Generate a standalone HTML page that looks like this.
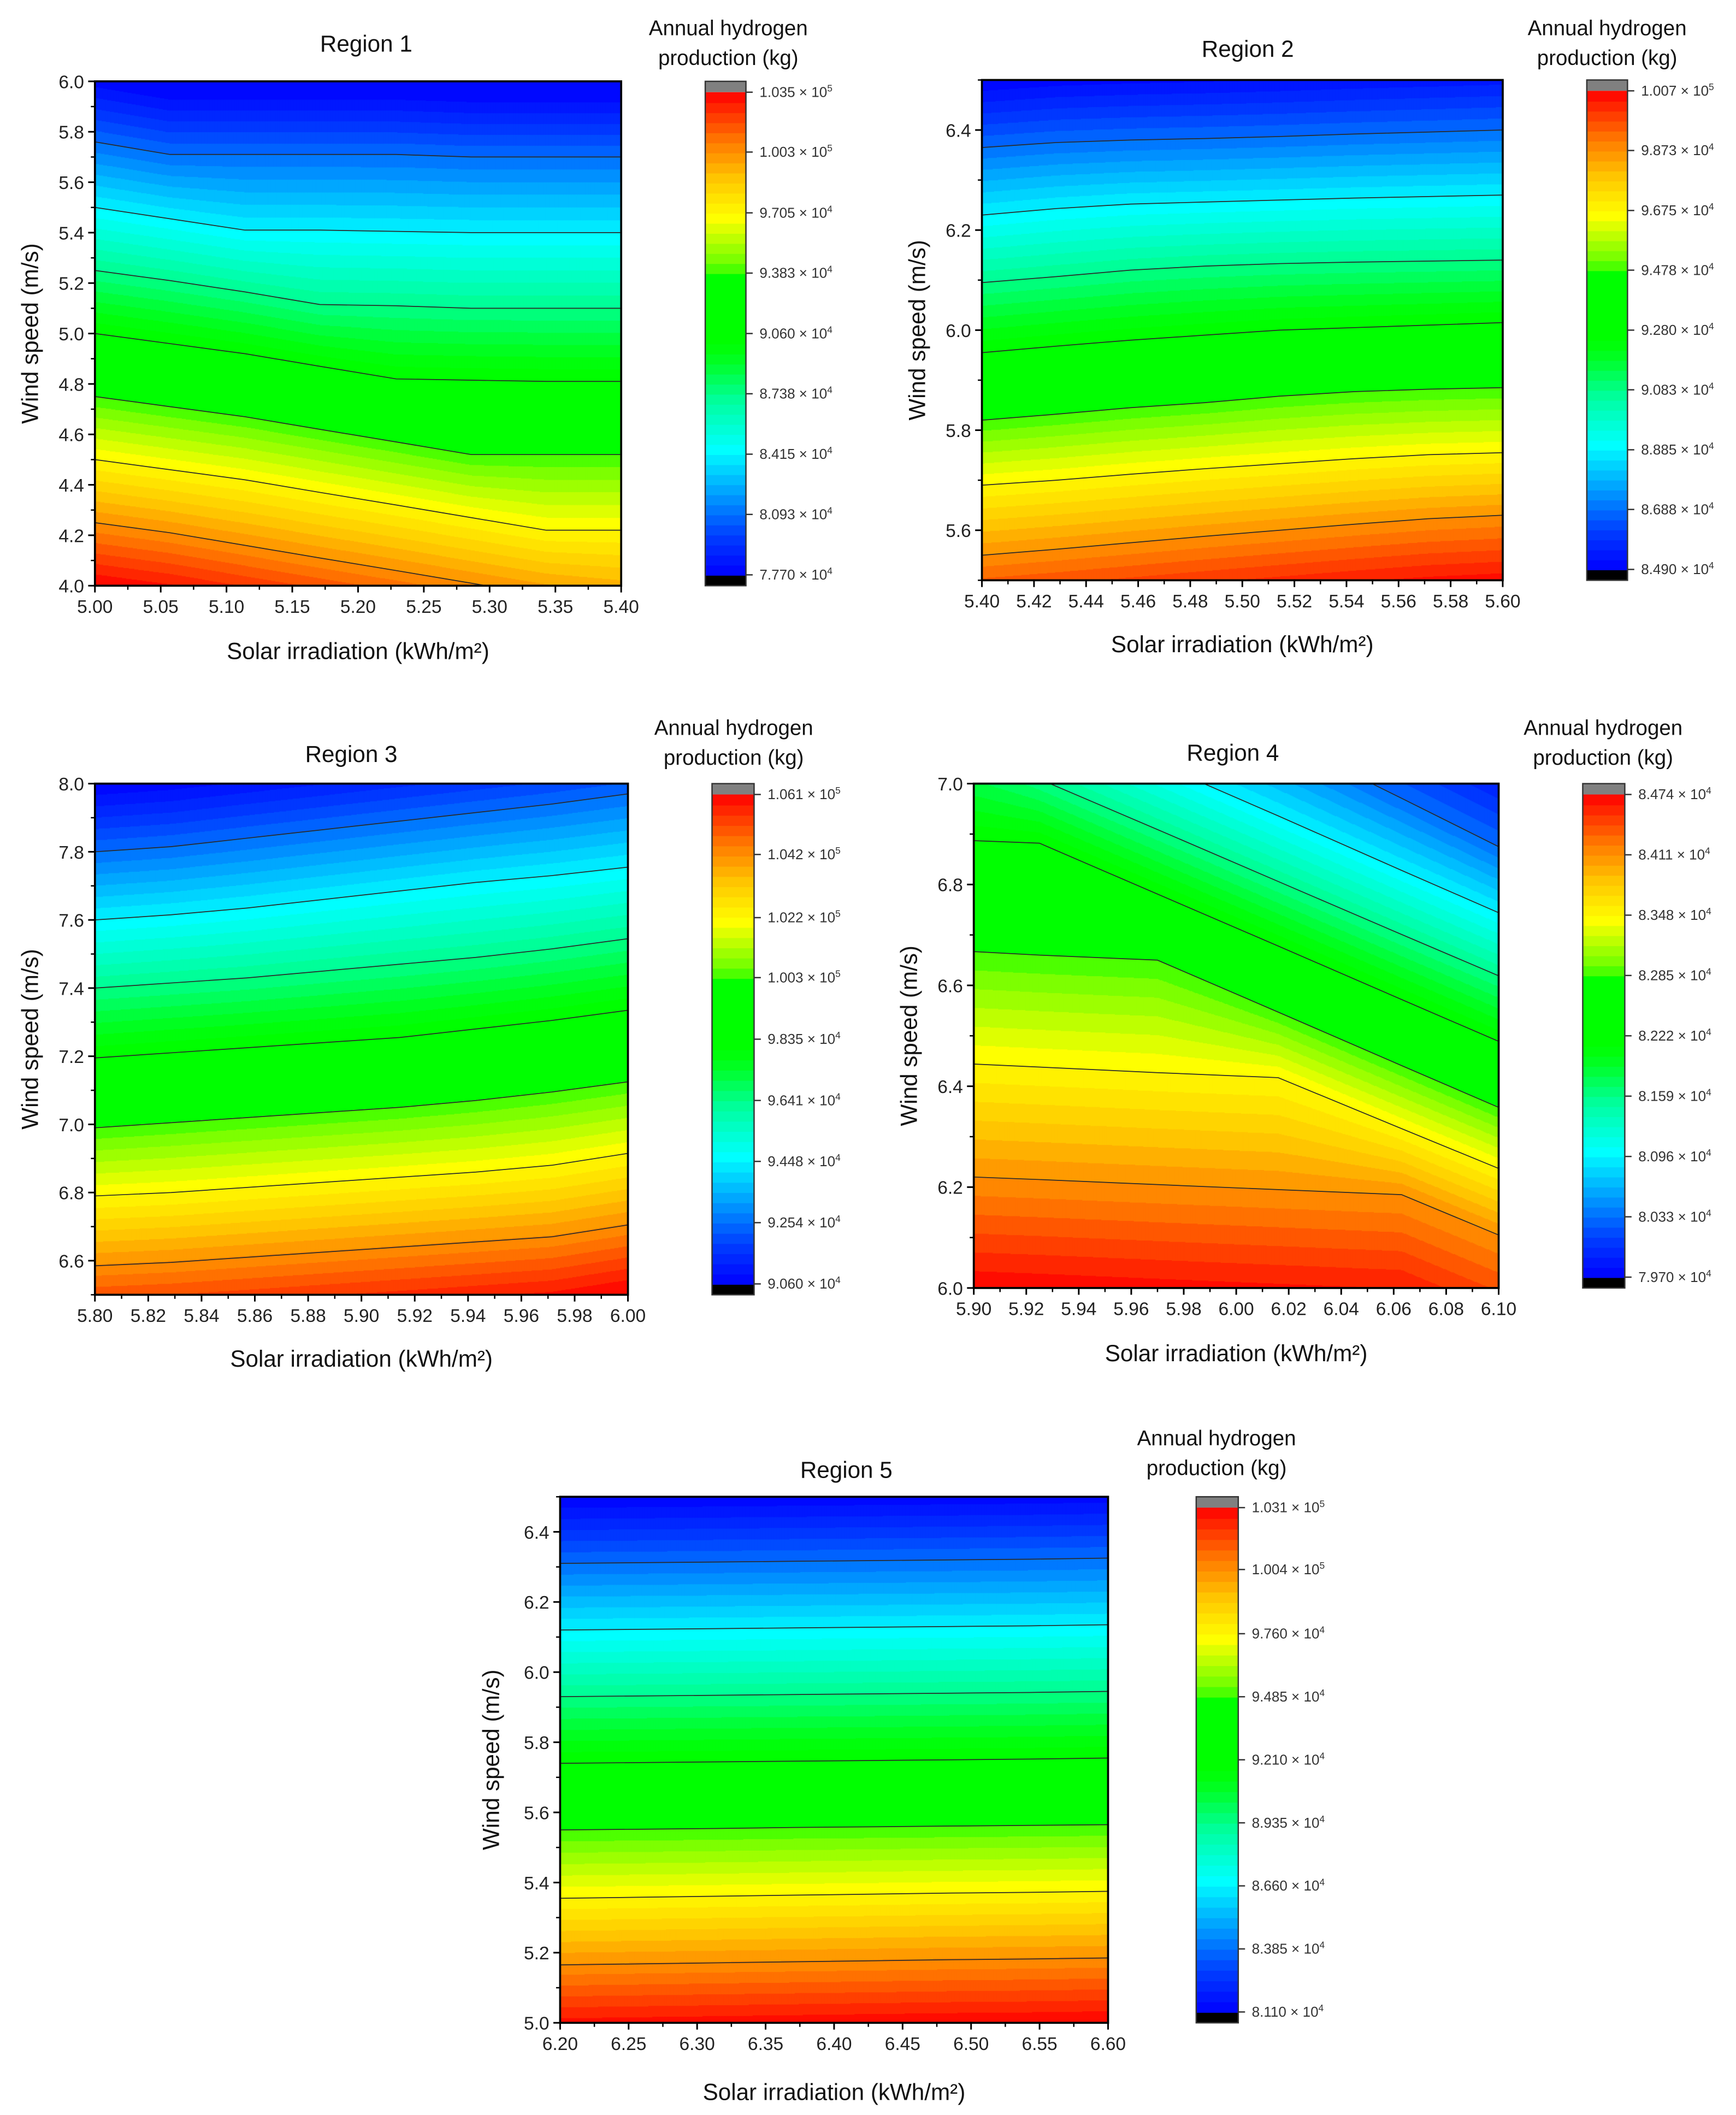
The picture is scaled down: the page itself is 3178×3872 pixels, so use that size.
<!DOCTYPE html>
<html><head><meta charset="utf-8"><title>Annual hydrogen production contour maps</title>
<style>
html,body{margin:0;padding:0;background:#fff;}
svg{display:block;font-family:"Liberation Sans",Arial,sans-serif;}
</style></head>
<body>
<svg id="fig" xmlns="http://www.w3.org/2000/svg" width="3178" height="3872" viewBox="0 0 1280 1560" preserveAspectRatio="none"></svg>
<script>
// ---------- DATA ----------
// Region 1
const r1XNodes = [5.0,5.057,5.114,5.171,5.229,5.286,5.343,5.4];
const r1Lines = [
 [5.76,5.71,5.71,5.71,5.71,5.70,5.70,5.70],
 [5.50,5.455,5.41,5.41,5.405,5.40,5.40,5.40],
 [5.25,5.21,5.165,5.115,5.11,5.10,5.10,5.10],
 [5.00,4.96,4.92,4.87,4.82,4.815,4.81,4.81],
 [4.75,4.71,4.67,4.62,4.57,4.52,4.52,4.52],
 [4.50,4.46,4.42,4.37,4.32,4.27,4.22,4.22],
 [4.25,4.21,4.16,4.11,4.06,4.01,3.96,3.92]
];
const r1Ticks = [77700,80930,84150,87380,90600,93830,97050,100300,103500];
// Region 2
const r2XNodes = [5.40,5.4286,5.4571,5.4857,5.5143,5.5429,5.5714,5.60];
const r2Lines = [
 [6.365,6.375,6.38,6.383,6.387,6.392,6.396,6.40],
 [6.23,6.243,6.252,6.256,6.26,6.264,6.267,6.27],
 [6.095,6.107,6.12,6.128,6.133,6.136,6.138,6.14],
 [5.955,5.968,5.98,5.99,6.0,6.005,6.01,6.015],
 [5.82,5.832,5.845,5.855,5.868,5.877,5.882,5.885],
 [5.69,5.70,5.712,5.723,5.733,5.743,5.751,5.755],
 [5.55,5.562,5.575,5.588,5.60,5.612,5.623,5.63]
];
const r2Ticks = [84900,86880,88850,90830,92800,94780,96750,98730,100700];
// Region 3
const r3XNodes = [5.80,5.8286,5.8571,5.8857,5.9143,5.9429,5.9714,6.00];
const r3Lines = [
 [7.80,7.815,7.84,7.865,7.89,7.915,7.94,7.97],
 [7.60,7.615,7.635,7.66,7.685,7.71,7.73,7.755],
 [7.40,7.415,7.43,7.45,7.47,7.49,7.515,7.545],
 [7.195,7.21,7.225,7.24,7.255,7.28,7.305,7.335],
 [6.99,7.005,7.02,7.035,7.05,7.07,7.095,7.125],
 [6.79,6.80,6.815,6.83,6.845,6.86,6.88,6.915],
 [6.585,6.595,6.61,6.625,6.64,6.655,6.67,6.705]
];
const r3Ticks = [90600,92540,94480,96410,98350,100300,102200,104200,106100];
// Region 4
const r4XNodes = [5.90,5.925,5.97,6.016,6.063,6.10];
const r4Lines = [
 [7.39,7.326,7.21,7.092,6.971,6.875],
 [7.20,7.143,7.04,6.936,6.828,6.744],
 [7.065,7.009,6.909,6.806,6.701,6.619],
 [6.887,6.882,6.781,6.678,6.572,6.489],
 [6.667,6.66,6.65,6.547,6.441,6.358],
 [6.444,6.438,6.427,6.417,6.316,6.237],
 [6.22,6.215,6.205,6.195,6.185,6.105]
];
const r4Ticks = [79700,80330,80960,81590,82220,82850,83480,84110,84740];
// Region 5
const r5XNodes = [6.20,6.257,6.314,6.371,6.429,6.486,6.543,6.60];
const r5Lines = [
 [6.31,6.312,6.314,6.316,6.318,6.32,6.322,6.325],
 [6.12,6.122,6.124,6.126,6.128,6.13,6.132,6.135],
 [5.93,5.932,5.934,5.936,5.938,5.94,5.942,5.945],
 [5.74,5.742,5.744,5.746,5.748,5.75,5.752,5.755],
 [5.55,5.552,5.554,5.557,5.559,5.561,5.563,5.565],
 [5.355,5.358,5.361,5.364,5.367,5.37,5.372,5.375],
 [5.165,5.168,5.171,5.174,5.177,5.18,5.182,5.185]
];
const r5Ticks = [81100,83850,86600,89350,92100,94850,97600,100400,103100];

// ---------- LAYOUT ----------
const panels = [
 {id:1,xn:r1XNodes,lines:r1Lines,ticks:r1Ticks,px:70,py:60,pw:388,ph:372,xmin:5.0,xmax:5.4,xstep:0.05,xdec:2,ymin:4.0,ymax:6.0,y0:4.0,ystep:0.2,cbx:520,cbw:30,tx:270,ty:32,ctx:537,cty:20,xly:480,ylx:22},
 {id:2,xn:r2XNodes,lines:r2Lines,ticks:r2Ticks,px:724,py:59,pw:384,ph:369,xmin:5.4,xmax:5.6,xstep:0.02,xdec:2,ymin:5.5,ymax:6.5,y0:5.6,ystep:0.2,cbx:1170,cbw:30,tx:920,ty:36,ctx:1185,cty:20,xly:475,ylx:676},
 {id:3,xn:r3XNodes,lines:r3Lines,ticks:r3Ticks,px:70,py:578,pw:393,ph:377,xmin:5.8,xmax:6.0,xstep:0.02,xdec:2,ymin:6.5,ymax:8.0,y0:6.6,ystep:0.2,cbx:525,cbw:31,tx:259,ty:556,ctx:541,cty:536,xly:1002,ylx:22},
 {id:4,xn:r4XNodes,lines:r4Lines,ticks:r4Ticks,px:718,py:578,pw:387,ph:372,xmin:5.9,xmax:6.1,xstep:0.02,xdec:2,ymin:6.0,ymax:7.0,y0:6.0,ystep:0.2,cbx:1167,cbw:31,tx:909,ty:555,ctx:1182,cty:536,xly:998,ylx:670},
 {id:5,xn:r5XNodes,lines:r5Lines,ticks:r5Ticks,px:413,py:1104,pw:404,ph:388,xmin:6.2,xmax:6.6,xstep:0.05,xdec:2,ymin:5.0,ymax:6.5,y0:5.0,ystep:0.2,cbx:882,cbw:31,tx:624,ty:1084,ctx:897,cty:1060,xly:1543,ylx:362}
];

const NS="http://www.w3.org/2000/svg";
const svg=document.getElementById('fig');
function mk(tag,attrs,parent){const e=document.createElementNS(NS,tag);for(const k in attrs)e.setAttribute(k,attrs[k]);(parent||svg).appendChild(e);return e;}

const stops=[[0,0,0,255],[0.08,0,60,255],[0.18,0,170,255],[0.26,0,255,255],[0.36,0,255,160],[0.44,0,255,40],[0.48,0,255,0],[0.62,0,255,0],[0.64,100,255,0],[0.74,255,255,0],[0.82,255,200,0],[0.9,255,120,0],[1,255,0,0]];
function cmap(t){t=Math.max(0,Math.min(1,t));for(let i=1;i<stops.length;i++){if(t<=stops[i][0]){const a=stops[i-1],b=stops[i];const f=(t-a[0])/(b[0]-a[0]);return 'rgb('+[1,2,3].map(j=>Math.round(a[j]+(b[j]-a[j])*f)).join(',')+')';}}return 'rgb(255,0,0)';}
const NB=48;
function qcol(t){let q=Math.floor(Math.max(0,Math.min(0.9999,t))*NB);return cmap((q+0.5)/NB);}

function interpNodes(xn,arr,x){if(x<=xn[0])return arr[0];for(let i=1;i<xn.length;i++){if(x<=xn[i]){const f=(x-xn[i-1])/(xn[i]-xn[i-1]);return arr[i-1]+(arr[i]-arr[i-1])*f;}}return arr[arr.length-1];}

function fmtSup(v){const e=Math.floor(Math.log10(v));return [(v/Math.pow(10,e)).toFixed(3),e];}

panels.forEach(p=>{
  const g=mk('g',{});
  
  
  const tmin=p.ticks[0],tmax=p.ticks[p.ticks.length-1];
  const lev=p.ticks.slice(1,8).map(v=>(v-tmin)/(tmax-tmin));
  const sx=x=>p.px+(x-p.xmin)/(p.xmax-p.xmin)*p.pw;
  const sy=y=>p.py+p.ph-(y-p.ymin)/(p.ymax-p.ymin)*p.ph;
  const iy=py=>p.ymin+(p.py+p.ph-py)/p.ph*(p.ymax-p.ymin);
  const ix=px=>p.xmin+(px-p.px)/p.pw*(p.xmax-p.xmin);
  const nL=p.lines.length;
  // extrapolation gradients from the first column
  const gapTop=p.lines[0][0]-p.lines[1][0];
  const gapBot=p.lines[nL-2][0]-p.lines[nL-1][0];
  const cp=mk('clipPath',{id:'clip'+p.id},g);
  mk('rect',{x:p.px,y:p.py,width:p.pw,height:p.ph},cp);
  const fill=mk('g',{'clip-path':'url(#clip'+p.id+')'},g);
  
  
  const dx=1;
  for(let cx=p.px;cx<p.px+p.pw;cx+=dx){
    const xd=ix(cx+dx/2);
    const ys=p.lines.map(l=>interpNodes(p.xn,l,xd));
    const tAt=yd=>{
      const n=ys.length;
      if(yd>=ys[0]){return lev[0]-(yd-ys[0])*(lev[1]-lev[0])/gapTop;}
      if(yd<=ys[n-1]){return lev[n-1]+(ys[n-1]-yd)*(lev[n-1]-lev[n-2])/gapBot;}
      for(let k=1;k<n;k++){if(yd>=ys[k]){const f=(ys[k-1]-yd)/(ys[k-1]-ys[k]);return lev[k-1]+(lev[k]-lev[k-1])*f;}}
      return lev[n-1];
    };
    let runStart=p.py,runCol=null;
    const step=0.5;
    for(let yy=p.py;yy<=p.py+p.ph+step;yy+=step){
      const c=yy<p.py+p.ph?qcol(tAt(iy(yy+step/2))):null;
      if(c!==runCol){
        if(runCol!==null){mk('rect',{x:cx,y:runStart,width:dx+0.6,height:yy-runStart+0.6,fill:runCol},fill);}
        runCol=c;runStart=yy;
      }
    }
  }
  p.lines.forEach((l,k)=>{
    const pts=l.map((y,i)=>sx(p.xn[i]).toFixed(2)+','+sy(y).toFixed(2)).join(' ');
    const pl=mk('polyline',{points:pts,fill:'none',stroke:'#2a2a2a','stroke-width':0.7,'clip-path':'url(#clip'+p.id+')'},g);
    
    
  });
  const fr=mk('rect',{x:p.px,y:p.py,width:p.pw,height:p.ph,fill:'none',stroke:'#000','stroke-width':1.5},g);
  
  
  const xa=mk('g',{},g);
  
  
  const nx=Math.round((p.xmax-p.xmin)/p.xstep);
  for(let i=0;i<=nx;i++){
    const v=p.xmin+i*p.xstep,X=sx(v);
    mk('line',{x1:X,y1:p.py+p.ph,x2:X,y2:p.py+p.ph+5,stroke:'#000','stroke-width':1.2},xa);
    if(i<nx){const Xm=sx(v+p.xstep/2);mk('line',{x1:Xm,y1:p.py+p.ph,x2:Xm,y2:p.py+p.ph+3,stroke:'#000','stroke-width':1},xa);}
    const t=mk('text',{x:X,y:p.py+p.ph+20,'font-size':13.5,'text-anchor':'middle',fill:'#222'},xa);
    t.textContent=v.toFixed(p.xdec);
  }
  const ya=mk('g',{},g);
  
  
  for(let v=p.ymin;v<=p.ymax+1e-6;v+=p.ystep/2){
    const Y=sy(v);
    const major=Math.abs(((v-p.y0)/p.ystep)-Math.round((v-p.y0)/p.ystep))<1e-4 && v>=p.y0-1e-6;
    mk('line',{x1:p.px-(major?5:3),y1:Y,x2:p.px,y2:Y,stroke:'#000','stroke-width':major?1.2:1},ya);
    if(major){const t=mk('text',{x:p.px-8,y:Y+5,'font-size':13.5,'text-anchor':'end',fill:'#222'},ya);t.textContent=v.toFixed(1);}
  }
  const tt=mk('text',{x:p.tx,y:p.ty+6,'font-size':17,'text-anchor':'middle',fill:'#111'},g);
  tt.textContent='Region '+p.id;
  
  
  const xl=mk('text',{x:p.px+p.pw/2,y:p.xly+6,'font-size':17,'text-anchor':'middle',fill:'#111'},g);
  xl.textContent='Solar irradiation (kWh/m²)';
  
  
  const yc=p.py+p.ph/2;
  const yl=mk('text',{x:p.ylx,y:yc,'font-size':17,'text-anchor':'middle',fill:'#111',transform:'rotate(-90 '+p.ylx+' '+yc+') translate(0 6)'},g);
  yl.textContent='Wind speed (m/s)';
  
  
  const cb=mk('g',{},g);
  
  
  const ct1=mk('text',{x:p.ctx,y:p.cty+6,'font-size':15.5,'text-anchor':'middle',fill:'#111'},cb);
  ct1.textContent='Annual hydrogen';
  
  
  const ct2=mk('text',{x:p.ctx,y:p.cty+28,'font-size':15.5,'text-anchor':'middle',fill:'#111'},cb);
  ct2.textContent='production (kg)';
  const cTop=p.py+8,cBot=p.py+p.ph-8;
  mk('rect',{x:p.cbx,y:p.py,width:p.cbw,height:8,fill:'#808080'},cb);
  mk('rect',{x:p.cbx,y:cBot,width:p.cbw,height:8,fill:'#000'},cb);
  for(let b=0;b<NB;b++){
    const y1=cBot-(b+1)/NB*(cBot-cTop);
    mk('rect',{x:p.cbx,y:y1,width:p.cbw,height:(cBot-cTop)/NB+0.6,fill:cmap((b+0.5)/NB)},cb);
  }
  mk('rect',{x:p.cbx,y:p.py,width:p.cbw,height:p.ph,fill:'none',stroke:'#333','stroke-width':1},cb);
  p.ticks.forEach(v=>{
    const Y=cBot-(v-tmin)/(tmax-tmin)*(cBot-cTop);
    mk('line',{x1:p.cbx+p.cbw,y1:Y,x2:p.cbx+p.cbw+5,y2:Y,stroke:'#333','stroke-width':1},cb);
    const [m,e]=fmtSup(v);
    const t=mk('text',{x:p.cbx+p.cbw+10,y:Y+3.5,'font-size':10.5,fill:'#333'},cb);
    t.textContent=m+' × 10';
    const s=mk('tspan',{'font-size':7,dy:-4},t);
    s.textContent=String(e);
  });
});
</script>
</body></html>
